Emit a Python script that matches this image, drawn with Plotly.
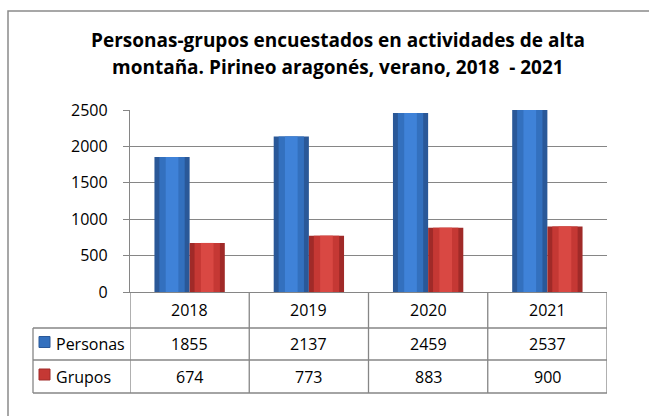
import plotly.graph_objects as go

years = ["2018", "2019", "2020", "2021"]
personas = [1855, 2137, 2459, 2537]
grupos = [674, 773, 883, 900]
series_names = ["Personas", "Grupos"]
title_lines = ["Personas-grupos encuestados en actividades de alta", "montaña. Pirineo aragonés, verano, 2018  - 2021"]

W, H = 649, 416
L, R, T, B = 130, 607, 110, 292  # plot area in pixels
FONT = "Open Sans"
GRID = "#868686"
BLUE_SHADES = ["#2A5898", "#3370BE", "#3F82D8"]
RED_SHADES = ["#A02A28", "#C53834", "#D94843"]

def px(x):
    return (x - L) / (R - L)

def py(y):
    return (B - y) / (B - T)

BAR_W = 0.295
fig = go.Figure()
for vals, name, shades, side in ((personas, series_names[0], BLUE_SHADES, -1), (grupos, series_names[1], RED_SHADES, 1)):
    center = side * BAR_W / 2
    for k, (frac, col) in enumerate(zip((1.0, 0.72, 0.36), shades)):
        w = BAR_W * frac
        fig.add_trace(go.Bar(x=years, y=vals, name=name, width=w, offset=center - w / 2,
                             marker=dict(color=col, line=dict(width=0)), showlegend=False,
                             hoverinfo="skip" if k else None))

shapes = []
annotations = []
shapes.append(dict(type="rect", xref="paper", yref="paper", x0=px(8), x1=px(700), y0=py(11), y1=py(460),
                   line=dict(color="#8a8a8a", width=1.5), layer="below"))

row_top, row1, row2, row3 = 292, 328, 360, 393
for yy in (row1, row2, row3):
    shapes.append(dict(type="line", xref="paper", yref="paper", x0=px(33), x1=px(607), y0=py(yy), y1=py(yy),
                       line=dict(color=GRID, width=1.3)))
shapes.append(dict(type="line", xref="paper", yref="paper", x0=px(33), x1=px(33), y0=py(row1), y1=py(row3),
                   line=dict(color=GRID, width=1.3)))
for i in range(len(years) + 1):
    shapes.append(dict(type="line", xref="x", yref="paper", x0=i - 0.5, x1=i - 0.5, y0=0, y1=py(row3),
                       line=dict(color=GRID, width=1.3)))

tf = dict(family=FONT, size=16, color="#000")
for i, yr in enumerate(years):
    annotations.append(dict(x=i, y=py((row_top + row1) / 2), xref="x", yref="paper", text=yr,
                            showarrow=False, yanchor="middle", xanchor="center", font=tf))
rows = [(personas, (row1 + row2) / 2, BLUE_SHADES), (grupos, (row2 + row3) / 2, RED_SHADES)]
for (vals, cy, shades), name in zip(rows, series_names):
    for i, v in enumerate(vals):
        annotations.append(dict(x=i, y=py(cy), xref="x", yref="paper", text=str(v), showarrow=False,
                                yanchor="middle", xanchor="center", font=tf))
    annotations.append(dict(x=px(54), y=py(cy), xref="paper", yref="paper", text=name, showarrow=False,
                            xanchor="left", yanchor="middle", font=tf))
    shapes.append(dict(type="rect", xref="paper", yref="paper", x0=px(39), x1=px(50), y0=py(cy - 7.5), y1=py(cy + 3.5),
                       fillcolor=shades[1], line=dict(color=shades[0], width=1)))

for j, line in enumerate(title_lines):
    annotations.append(dict(x=px(338), y=py(40 + 27 * j), xref="paper", yref="paper", text="<b>" + line + "</b>",
                            showarrow=False, xanchor="center", yanchor="middle",
                            font=dict(family=FONT, size=19, color="#000")))

fig.update_layout(
    width=W, height=H,
    margin=dict(l=L, r=W - R, t=T, b=H - B, pad=0),
    paper_bgcolor="white", plot_bgcolor="white",
    barmode="overlay",
    showlegend=False,
    shapes=shapes, annotations=annotations,
    xaxis=dict(type="category", range=[-0.5, 3.5], showticklabels=False, showgrid=False,
               showline=True, linecolor=GRID, linewidth=1.3, ticks="", zeroline=False),
    yaxis=dict(range=[0, 2500], dtick=500, showgrid=True, gridcolor=GRID, gridwidth=1.3,
               showline=True, linecolor=GRID, linewidth=1.3, ticks="outside", ticklen=6, tickcolor=GRID,
               tickfont=dict(family=FONT, size=16, color="#000"), ticklabelstandoff=12, zeroline=False),
)

fig.write_html("out.html", config={"displayModeBar": False},
               post_script="document.body.style.margin='0';")
